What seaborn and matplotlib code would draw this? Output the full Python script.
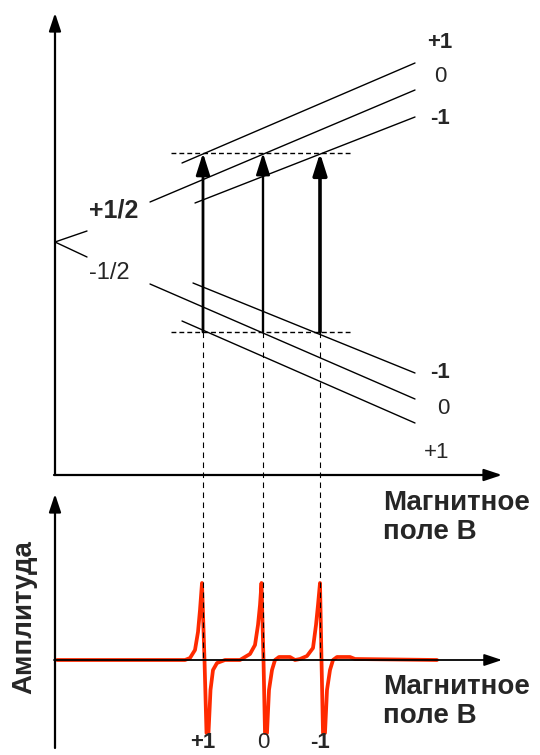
import matplotlib
matplotlib.use("Agg")
import matplotlib.pyplot as plt
import pandas as pd
import seaborn as sns

# ---------------- data (field B and energy E in arbitrary units) ----------------
nuclear_m_upper = ["+1", "0", "-1"]
upper_B_start = [12.7, 9.5, 14.0]
upper_E_start = [31.2, 27.3, 27.2]
upper_B_end = [36.0, 36.0, 36.0]
upper_E_end = [41.2, 38.5, 35.8]

nuclear_m_lower = ["-1", "0", "+1"]
lower_B_start = [13.8, 9.5, 12.7]
lower_E_start = [19.2, 19.1, 15.4]
lower_B_end = [36.0, 36.0, 36.0]
lower_E_end = [10.2, 7.6, 5.2]

zero_field_E = 23.3
split_B = 3.2
split_E = [24.4, 21.8]
spin_labels = ["+1/2", "-1/2"]

resonance_B = [14.8, 20.8, 26.5]
resonance_labels = ["+1", "0", "-1"]
E_upper_res = 32.2
E_lower_res = 14.3

spec_B = [0.2, 13.0, 13.5, 14.0, 14.3, 14.5, 14.7, 14.95, 15.15, 15.35, 15.55, 15.8, 16.2, 17.0,
          18.5, 19.0, 19.5, 20.0, 20.3, 20.5, 20.65, 20.85, 21.0, 21.2, 21.4, 21.7, 22.0, 22.4, 23.5, 24.0,
          24.5, 25.2, 25.8, 26.1, 26.3, 26.5, 26.65, 26.8, 27.0, 27.2, 27.5, 27.8, 28.2, 29.5, 30.0, 38.2]
spec_A = [0.0, 0.0, 0.2, 1.0, 2.8, 5.0, 7.7, 0.0, -7.3, -7.3, -3.0, -1.0, -0.3, 0.0,
          0.0, 0.3, 0.6, 1.5, 3.5, 5.5, 7.7, 0.0, -7.3, -7.3, -3.0, -1.0, 0.0, 0.3, 0.3, 0.0,
          0.1, 0.4, 1.2, 3.5, 5.5, 7.7, 0.0, -7.3, -7.3, -3.0, -1.0, 0.0, 0.3, 0.3, 0.1, 0.0]

axis_title = "Магнитное\nполе B"
amp_title = "Амплитуда"

# ---------------- styling ----------------
sns.set_theme(style="white")
plt.rcParams['font.family'] = ['Liberation Sans', 'DejaVu Sans']

W, H = 540, 755
fig = plt.figure(figsize=(W / 100, H / 100), dpi=100)

ax1 = fig.add_axes([55 / W, 1 - 475 / H, 447 / W, 462 / H])
ax1.set_xlim(0, 44.7)
ax1.set_ylim(0, 46.2)
ax2 = fig.add_axes([55 / W, 1 - 748 / H, 447 / W, 254 / H])
ax2.set_xlim(0, 44.7)
ax2.set_ylim(-8.8, 16.6)

for ax in (ax1, ax2):
    ax.set_xticks([])
    ax.set_yticks([])
    for s in ax.spines.values():
        s.set_visible(False)
    ax.patch.set_alpha(0)
ax1.set_zorder(3)

axis_arrow = dict(arrowstyle="-|>,head_width=0.3,head_length=0.9", lw=1.6, color="black",
                  shrinkA=0, shrinkB=0)
# axes with arrows
ax1.annotate("", xy=(0, 46.2), xytext=(0, 0), arrowprops=axis_arrow, annotation_clip=False)
ax1.annotate("", xy=(44.7, 0), xytext=(-0.1, 0), arrowprops=axis_arrow, annotation_clip=False)
ax2.annotate("", xy=(0, 16.6), xytext=(0, -8.8), arrowprops=axis_arrow, annotation_clip=False)

# spectrum
spec = pd.DataFrame({"B": spec_B, "A": spec_A})
sns.lineplot(data=spec, x="B", y="A", ax=ax2, color="#ff2a00", lw=2.7, sort=False,
             estimator=None, zorder=2)
ax2.annotate("", xy=(44.7, 0), xytext=(-0.1, 0), arrowprops=dict(axis_arrow, lw=1.3),
             annotation_clip=False, zorder=3)

# zero-field splitting
for e in split_E:
    ax1.plot([0, split_B], [zero_field_E, e], color="black", lw=1.0)

# level lines
rows = []
for i, m in enumerate(nuclear_m_upper):
    rows.append(dict(B=upper_B_start[i], E=upper_E_start[i], line="u" + m))
    rows.append(dict(B=upper_B_end[i], E=upper_E_end[i], line="u" + m))
for i, m in enumerate(nuclear_m_lower):
    rows.append(dict(B=lower_B_start[i], E=lower_E_start[i], line="l" + m))
    rows.append(dict(B=lower_B_end[i], E=lower_E_end[i], line="l" + m))
levels = pd.DataFrame(rows)
sns.lineplot(data=levels, x="B", y="E", units="line", estimator=None, ax=ax1,
             color="black", lw=1.0, sort=False)
for ax in (ax1, ax2):
    ax.set_xlabel("")
    ax.set_ylabel("")

# resonance dashed horizontals
for e in (E_upper_res, E_lower_res):
    ax1.plot([11.6, 29.8], [e, e], color="black", lw=1.0, ls=(0, (3.5, 2.2)))

# transitions (arrows)
arrow_w = [2.0, 1.7, 2.6]
for b, w in zip(resonance_B, arrow_w):
    ax1.annotate("", xy=(b, E_upper_res), xytext=(b, E_lower_res),
                 arrowprops=dict(arrowstyle="-|>,head_width=0.35,head_length=1.1", lw=w,
                                 color="black", shrinkA=0, shrinkB=0))
    ax1.plot([b, b], [E_lower_res, -18.5], color="black", lw=0.8, ls=(0, (5, 4)),
             clip_on=False)

# labels
ax1.text(5.9, 26.5, spin_labels[0], fontsize=18, fontweight="bold", ha="center", va="center")
ax1.text(5.4, 20.2, spin_labels[1], fontsize=17, ha="center", va="center")

upper_lab_E = [43.3, 39.8, 35.7]
upper_lab_bold = ["bold", "normal", "bold"]
for m, e, fw in zip(nuclear_m_upper, upper_lab_E, upper_lab_bold):
    ax1.text(38.5, e, m, fontsize=16, fontweight=fw, ha="center", va="center")
lower_lab_E = [10.2, 6.6, 2.3]
lower_lab_B = [38.5, 38.8, 38.2]
lower_lab_bold = ["bold", "normal", "normal"]
for m, b, e, fw in zip(nuclear_m_lower, lower_lab_B, lower_lab_E, lower_lab_bold):
    ax1.text(b, e, m, fontsize=16, fontweight=fw, ha="center", va="center")

bottom_bold = ["bold", "normal", "bold"]
for b, lab, fw in zip(resonance_B, resonance_labels, bottom_bold):
    ax2.text(b, -8.3, lab, fontsize=16, fontweight=fw, ha="center", va="center")

fig.text(383 / W, 1 - 490 / H, axis_title, fontsize=20, fontweight="bold", ha="left", va="top",
         linespacing=1.15)
fig.text(383 / W, 1 - 674 / H, axis_title, fontsize=20, fontweight="bold", ha="left", va="top",
         linespacing=1.15)
fig.text(24 / W, 1 - 617 / H, amp_title, fontsize=20, fontweight="bold", rotation=90,
         ha="center", va="center")

fig.savefig("out.png", dpi=100)
